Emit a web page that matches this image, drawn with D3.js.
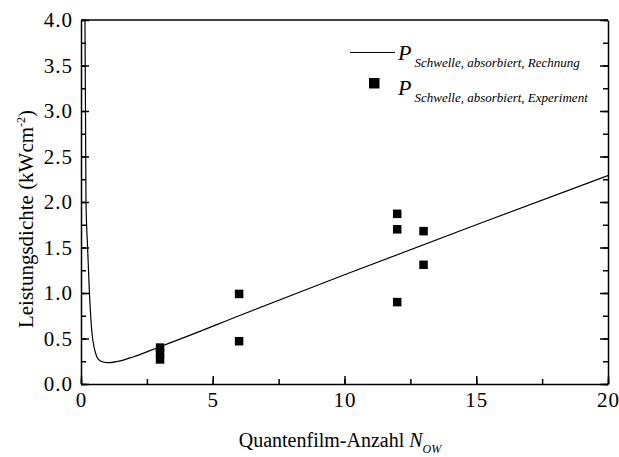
<!DOCTYPE html>
<html>
<head>
<meta charset="utf-8">
<script src="https://cdn.jsdelivr.net/npm/d3@7"></script>
<style>
  body { margin: 0; background: #fff; }
  svg text { font-family: "Liberation Serif", "Times New Roman", serif; fill: #000; }
</style>
</head>
<body>
<svg id="chart" width="619" height="457"></svg>
<script>
// curve: calculated threshold
var calcN = [0.15, 0.17, 0.19, 0.25, 0.32, 0.42, 0.5, 0.6, 0.75, 1.0, 1.5, 2, 3, 4, 6, 10, 15, 20];
var calcP = [4.0, 3.0, 2.0, 1.5, 1.0, 0.55, 0.4, 0.3, 0.25, 0.235, 0.255, 0.30, 0.41, 0.52, 0.75, 1.2, 1.75, 2.29];

// squares: experiment
var expN = [3, 3, 3, 6, 6, 12, 12, 12, 13, 13];
var expP = [0.40, 0.34, 0.27, 0.99, 0.47, 1.87, 1.70, 0.90, 1.68, 1.31];

var xTicks = [0, 5, 10, 15, 20];
var yTicks = [0, 0.5, 1, 1.5, 2, 2.5, 3, 3.5, 4];

var svg = d3.select("#chart");

// plot box in pixels
var boxL = 81, boxR = 608, boxT = 20, boxB = 384;

var x = d3.scaleLinear().domain([0, 20]).range([boxL, boxR]);
var y = d3.scaleLinear().domain([0, 4]).range([boxB, boxT]);

// clip for the curve
svg.append("clipPath").attr("id", "clip")
  .append("rect")
  .attr("x", boxL).attr("y", boxT)
  .attr("width", boxR - boxL).attr("height", boxB - boxT);

// minor ticks
var xMinor = d3.range(0, 20.01, 2.5);
var yMinor = d3.range(0, 4.01, 0.25);

// bottom axis
svg.append("g")
  .attr("transform", "translate(0," + boxB + ")")
  .call(d3.axisBottom(x).tickValues(xMinor).tickSize(-5).tickFormat(""))
  .call(function(g) { g.select(".domain").remove(); });

svg.append("g")
  .attr("transform", "translate(0," + boxB + ")")
  .call(d3.axisBottom(x).tickValues(xTicks).tickSizeInner(-8).tickSizeOuter(0).tickPadding(8).tickFormat(d3.format("d")));

// left axis
svg.append("g")
  .attr("transform", "translate(" + boxL + ",0)")
  .call(d3.axisLeft(y).tickValues(yMinor).tickSize(-5).tickFormat(""))
  .call(function(g) { g.select(".domain").remove(); });

svg.append("g")
  .attr("transform", "translate(" + boxL + ",0)")
  .call(d3.axisLeft(y).tickValues(yTicks).tickSizeInner(-8).tickSizeOuter(0).tickPadding(8).tickFormat(d3.format(".1f")));

// right axis (mirrored ticks, no labels)
svg.append("g")
  .attr("transform", "translate(" + boxR + ",0)")
  .call(d3.axisRight(y).tickValues(yMinor).tickSize(-5).tickFormat(""))
  .call(function(g) { g.select(".domain").remove(); });

svg.append("g")
  .attr("transform", "translate(" + boxR + ",0)")
  .call(d3.axisRight(y).tickValues(yTicks).tickSizeInner(-8).tickSizeOuter(0).tickFormat(""));

// top border
svg.append("line")
  .attr("x1", boxL).attr("x2", boxR)
  .attr("y1", boxT).attr("y2", boxT)
  .attr("stroke", "#000").attr("stroke-width", 1.5);

svg.selectAll(".domain, .tick line").attr("stroke", "#000").attr("stroke-width", 1.5);
svg.selectAll("g").attr("font-family", null).attr("font-size", 21);
svg.selectAll(".tick text")
  .style("font-size", "21px")
  .style("letter-spacing", "1px");

// calculated curve
var line = d3.line()
  .x(function(d, i) { return x(calcN[i]); })
  .y(function(d, i) { return y(calcP[i]); })
  .curve(d3.curveMonotoneX);

svg.append("path")
  .datum(calcN)
  .attr("clip-path", "url(#clip)")
  .attr("d", line)
  .attr("fill", "none")
  .attr("stroke", "#000")
  .attr("stroke-width", 1.2);

// experiment squares
var sq = 8.5;
svg.selectAll(".pt")
  .data(expN)
  .enter().append("rect")
  .attr("class", "pt")
  .attr("x", function(d) { return x(d) - sq / 2; })
  .attr("y", function(d, i) { return y(expP[i]) - sq / 2; })
  .attr("width", sq)
  .attr("height", sq)
  .attr("fill", "#000");

// legend
svg.append("line")
  .attr("x1", 350).attr("x2", 395)
  .attr("y1", 52.5).attr("y2", 52.5)
  .attr("stroke", "#000").attr("stroke-width", 1.2);

svg.append("rect")
  .attr("x", 369).attr("y", 78)
  .attr("width", 10.5).attr("height", 10.5)
  .attr("fill", "#000");

var leg = [["Schwelle, absorbiert, Rechnung", 60], ["Schwelle, absorbiert, Experiment", 95]];
leg.forEach(function(l) {
  var t = svg.append("text")
    .attr("x", 398).attr("y", l[1])
    .style("font-style", "italic")
    .style("font-size", "22px");
  t.append("tspan").text("P");
  t.append("tspan")
    .attr("dy", 7).attr("dx", 3)
    .style("font-size", "13px")
    .text(l[0]);
});

// axis titles
var xt = svg.append("text")
  .attr("x", 340).attr("y", 447)
  .attr("text-anchor", "middle")
  .style("font-size", "20px");
xt.append("tspan").text("Quantenfilm-Anzahl ");
xt.append("tspan").style("font-style", "italic").text("N");
xt.append("tspan").style("font-style", "italic").style("font-size", "12px").attr("dy", 6).text("OW");

var yt = svg.append("text")
  .attr("transform", "translate(33,219) rotate(-90)")
  .attr("text-anchor", "middle")
  .style("font-size", "21px");
yt.append("tspan").text("Leistungsdichte (kWcm");
yt.append("tspan").style("font-size", "12px").attr("dy", -8).text("-2");
yt.append("tspan").attr("dy", 8).text(")");
</script>
</body>
</html>
